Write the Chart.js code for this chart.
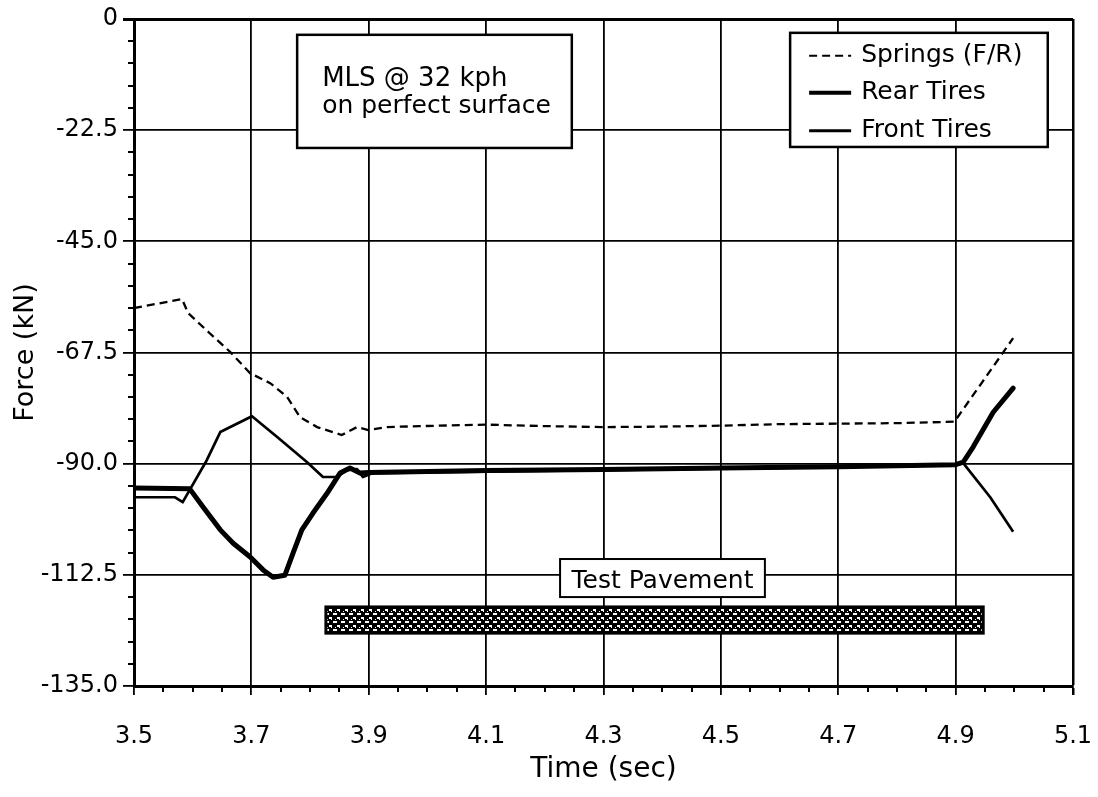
<!DOCTYPE html>
<html>
<head>
<meta charset="utf-8">
<script src="https://cdn.jsdelivr.net/npm/chart.js@4.4.1/dist/chart.umd.min.js"></script>
<style>
html,body{margin:0;padding:0;background:#fff;}
canvas{display:block;}
</style>
</head>
<body>
<canvas id="c" width="1098" height="797"></canvas>
<script>
// ---------- DATA ----------
const xTicks = [3.5, 3.7, 3.9, 4.1, 4.3, 4.5, 4.7, 4.9, 5.1];
const yTicks = [0, -22.5, -45, -67.5, -90, -112.5, -135];
const seriesNames = ['Springs (F/R)', 'Rear Tires', 'Front Tires'];

const springsT = [3.5, 3.582, 3.592, 3.629, 3.664, 3.698, 3.732, 3.761, 3.783, 3.812, 3.854, 3.880, 3.899, 3.931, 3.987, 4.1, 4.2, 4.3, 4.4, 4.5, 4.6, 4.7, 4.8, 4.898, 4.998];
const springsF = [-58.5, -56.7, -59.5, -63.6, -67.4, -71.7, -73.7, -76.5, -80.6, -82.6, -84.2, -82.6, -83.2, -82.6, -82.4, -82.1, -82.4, -82.6, -82.5, -82.3, -82.0, -81.9, -81.8, -81.5, -64.6];

const rearT = [3.5, 3.595, 3.618, 3.647, 3.669, 3.698, 3.720, 3.737, 3.757, 3.771, 3.786, 3.805, 3.829, 3.851, 3.868, 3.885, 3.9, 4.1, 4.3, 4.5, 4.7, 4.9, 4.913, 4.930, 4.964, 4.998];
const rearF = [-94.9, -95.1, -98.8, -103.4, -106.1, -108.9, -111.5, -113.0, -112.6, -108.1, -103.4, -100.0, -96.0, -91.9, -90.9, -91.9, -91.8, -91.4, -91.2, -90.9, -90.6, -90.2, -89.7, -86.6, -79.6, -74.7];

const frontT = [3.5, 3.570, 3.583, 3.595, 3.624, 3.647, 3.701, 3.744, 3.795, 3.822, 3.846, 3.863, 3.880, 3.890, 3.907, 4.1, 4.3, 4.5, 4.7, 4.9, 4.913, 4.959, 4.998];
const frontF = [-96.8, -96.8, -97.8, -95.3, -89.3, -83.6, -80.4, -84.6, -89.7, -92.7, -92.7, -91.3, -91.1, -92.7, -91.9, -91.6, -91.3, -91.0, -90.7, -90.3, -89.9, -96.8, -103.8];

// test pavement extent along time
const pavementStart = 3.827;
const pavementEnd = 4.947;

// ---------- HELPERS ----------
const FONT = '"DejaVu Sans", "Liberation Sans", sans-serif';
const toPts = (t, f) => t.map((v, i) => ({x: v, y: f[i]}));

function makePattern(ctx) {
  const c = document.createElement('canvas');
  c.width = 8; c.height = 8;
  const g = c.getContext('2d');
  g.fillStyle = '#000'; g.fillRect(0, 0, 8, 8);
  g.fillStyle = '#fff';
  g.fillRect(1, 1, 3, 2);
  g.fillRect(3, 3, 1, 1);
  g.fillRect(5, 5, 3, 2);
  g.fillRect(0, 5, 1, 2);
  g.fillRect(7, 3, 1, 1);
  return ctx.createPattern(c, 'repeat');
}

const minorTicks = {
  id: 'minorTicks',
  afterDraw(chart) {
    const {ctx, scales: {x, y}, chartArea: a} = chart;
    ctx.save();
    ctx.strokeStyle = '#000';
    ctx.lineWidth = 2;
    ctx.beginPath();
    for (let i = 0; i <= 30; i++) {
      if (i % 5 === 0) continue;
      const py = Math.round(y.getPixelForValue(-135 + 4.5 * i));
      ctx.moveTo(a.left - 6, py); ctx.lineTo(a.left, py);
    }
    for (let i = 0; i <= 32; i++) {
      if (i % 4 === 0) continue;
      const px = Math.round(x.getPixelForValue(3.5 + 0.05 * i));
      ctx.moveTo(px, a.bottom); ctx.lineTo(px, a.bottom + 6);
    }
    ctx.stroke();
    ctx.restore();
  }
};

const annotations = {
  id: 'annotations',
  afterDatasetsDraw(chart) {
    const {ctx, scales: {x, y}} = chart;
    const box = (t0, t1, v0, v1, lw) => {
      const x0 = x.getPixelForValue(t0), x1 = x.getPixelForValue(t1);
      const y0 = y.getPixelForValue(v0), y1 = y.getPixelForValue(v1);
      ctx.fillStyle = '#fff';
      ctx.fillRect(x0, y0, x1 - x0, y1 - y0);
      ctx.lineWidth = lw;
      ctx.strokeStyle = '#000';
      ctx.strokeRect(x0, y0, x1 - x0, y1 - y0);
      return {x0, y0, x1, y1};
    };
    ctx.save();
    ctx.fillStyle = '#000';
    ctx.textBaseline = 'alphabetic';

    // info box
    const b1 = box(3.778, 4.246, -3.2, -26.1, 2.5);
    ctx.fillStyle = '#000';
    ctx.font = '26px ' + FONT;
    ctx.textAlign = 'left';
    ctx.fillText('MLS @ 32 kph', b1.x0 + 25, b1.y0 + 51);
    ctx.font = '25px ' + FONT;
    ctx.fillText('on perfect surface', b1.x0 + 25, b1.y0 + 78);

    // legend box
    const b2 = box(4.618, 5.057, -2.8, -25.9, 2.5);
    const ds = chart.data.datasets;
    const rows = [b2.y0 + 29, b2.y0 + 66, b2.y0 + 104];
    ctx.font = '25px ' + FONT;
    ds.forEach((d, i) => {
      ctx.save();
      ctx.strokeStyle = '#000';
      ctx.lineWidth = i === 1 ? 4 : (i === 2 ? 3 : 2);
      ctx.setLineDash(d.borderDash || []);
      ctx.beginPath();
      ctx.moveTo(b2.x0 + 19, rows[i] - 6);
      ctx.lineTo(b2.x0 + 61, rows[i] - 6);
      ctx.stroke();
      ctx.restore();
      ctx.fillStyle = '#000';
      ctx.fillText(d.label, b2.x0 + 71, rows[i]);
    });

    // test pavement label
    const b3 = box(4.226, 4.575, -109.3, -117.0, 2);
    ctx.fillStyle = '#000';
    ctx.font = '25px ' + FONT;
    ctx.textAlign = 'center';
    ctx.fillText('Test Pavement', (b3.x0 + b3.x1) / 2, b3.y1 - 9);

    // test pavement bar
    const px0 = x.getPixelForValue(pavementStart), px1 = x.getPixelForValue(pavementEnd);
    const py0 = y.getPixelForValue(-119.0), py1 = y.getPixelForValue(-124.3);
    ctx.fillStyle = makePattern(ctx);
    ctx.fillRect(px0, py0, px1 - px0, py1 - py0);
    ctx.lineWidth = 3;
    ctx.strokeStyle = '#000';
    ctx.strokeRect(px0, py0, px1 - px0, py1 - py0);
    ctx.restore();
  }
};

new Chart(document.getElementById('c'), {
  type: 'scatter',
  data: {
    datasets: [
      {label: seriesNames[0], data: toPts(springsT, springsF), showLine: true, borderColor: '#000', borderWidth: 2.3, borderDash: [8, 5], pointRadius: 0, tension: 0},
      {label: seriesNames[1], data: toPts(rearT, rearF), showLine: true, borderColor: '#000', borderWidth: 5, pointRadius: 0, tension: 0, borderJoinStyle: 'round', borderCapStyle: 'round'},
      {label: seriesNames[2], data: toPts(frontT, frontF), showLine: true, borderColor: '#000', borderWidth: 2.7, pointRadius: 0, tension: 0, borderJoinStyle: 'round'}
    ]
  },
  options: {
    responsive: false,
    animation: false,
    devicePixelRatio: 1,
    layout: {padding: {left: 0, top: 19, right: 25, bottom: 0}},
    plugins: {legend: {display: false}, tooltip: {enabled: false}},
    scales: {
      x: {
        type: 'linear', min: 3.5, max: 5.1,
        afterBuildTicks: s => { s.ticks = xTicks.map(v => ({value: v})); },
        afterFit: s => { s.height = 111; s.paddingLeft = 0; s.paddingRight = 0; },
        ticks: {
          callback: v => Number(v).toFixed(1),
          font: {family: FONT, size: 24}, color: '#000', padding: 27, maxRotation: 0, autoSkip: false
        },
        grid: {
          color: '#000',
          lineWidth: c => (c.tick && Math.abs(c.tick.value - 5.1) < 1e-6) ? 2.5 : 1.8,
          tickLength: 9
        },
        border: {display: true, color: '#000', width: 3},
        title: {display: true, text: 'Time (sec)', color: '#000', font: {family: FONT, size: 28}, padding: {top: 0, bottom: 10}}
      },
      y: {
        type: 'linear', min: -135, max: 0,
        afterBuildTicks: s => { s.ticks = yTicks.map(v => ({value: v})); },
        afterFit: s => { s.width = 134; s.paddingTop = 0; s.paddingBottom = 0; },
        ticks: {
          callback: v => v === 0 ? '0' : Number(v).toFixed(1),
          font: {family: FONT, size: 24}, color: '#000', padding: 5, autoSkip: false
        },
        grid: {
          color: '#000',
          lineWidth: c => (c.tick && c.tick.value === 0) ? 3 : 1.8,
          tickLength: 11
        },
        border: {display: true, color: '#000', width: 3},
        title: {display: true, text: 'Force (kN)', color: '#000', font: {family: FONT, size: 27}, padding: {top: 10, bottom: 0}}
      }
    }
  },
  plugins: [minorTicks, annotations]
});
</script>
</body>
</html>
